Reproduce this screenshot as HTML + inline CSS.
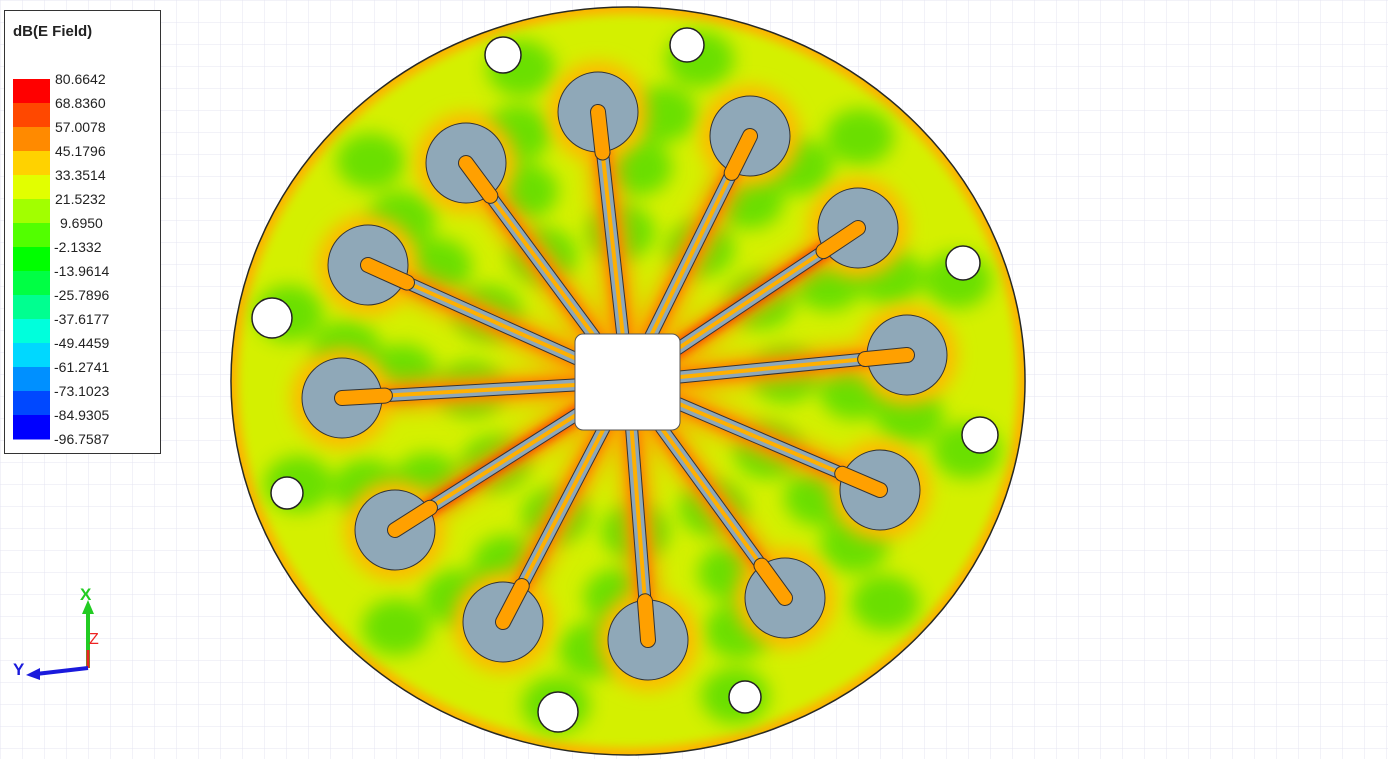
<!DOCTYPE html>
<html><head><meta charset="utf-8"><style>
body{margin:0;width:1388px;height:759px;overflow:hidden;background:#fff;font-family:"Liberation Sans",sans-serif}
svg{position:absolute;left:0;top:0}
</style></head><body>
<svg id="s" width="1388" height="759" xmlns="http://www.w3.org/2000/svg">
<defs>
<pattern id="grid" width="22" height="22" patternUnits="userSpaceOnUse"><path d="M22 0H0V22" fill="none" stroke="#e4e4f2" stroke-width="1"/></pattern>
<filter id="blur"><feGaussianBlur stdDeviation="9"/></filter>
<filter id="blur2"><feGaussianBlur stdDeviation="5"/></filter>
<clipPath id="disk"><ellipse cx="628" cy="381" rx="397" ry="374"/></clipPath>
</defs>
<rect width="1388" height="759" fill="url(#grid)"/>
<g id="board"></g>
<g id="legend"></g>
<g id="triad">
<line x1="88" y1="668" x2="88" y2="610" stroke="#22cc22" stroke-width="4"/>
<polygon points="82,614 94,614 88,600" fill="#22cc22"/>
<line x1="88" y1="668" x2="88" y2="650" stroke="#ee2222" stroke-width="3"/>
<line x1="88" y1="668" x2="36" y2="674" stroke="#1a1adc" stroke-width="4"/>
<polygon points="40,668 40,680 26,675" fill="#1a1adc"/>
<text x="80" y="600" font-size="17" fill="#22cc22" font-weight="bold">X</text>
<text x="89" y="644" font-size="16" fill="#ee2222">Z</text>
<text x="13" y="675" font-size="17" fill="#1a1adc" font-weight="bold">Y</text>
</g>
</svg>
<script>
const legendLabels=["80.6642","68.8360","57.0078","45.1796","33.3514","21.5232","9.6950","-2.1332","-13.9614","-25.7896","-37.6177","-49.4459","-61.2741","-73.1023","-84.9305","-96.7587"];
const legendColors=["#ff0000","#ff4800","#ff8a00","#ffd200","#e2ff00","#a2ff00","#52ff00","#00ff00","#00ff44","#00ff90","#00ffdc","#00d8ff","#0090ff","#0048ff","#0000ff"];
const padX=[598,750,858,907,880,785,648,503,395,342,368,466];
const padY=[112,136,228,355,490,598,640,622,530,398,265,163];
const holeX=[503,687,963,272,980,287,745,558];
const holeY=[55,45,263,318,435,493,697,712];
const holeR=[18,17,17,20,18,16,16,20];
const NS="http://www.w3.org/2000/svg";
function mk(t,a,p){const e=document.createElementNS(NS,t);for(const k in a)e.setAttribute(k,a[k]);p.appendChild(e);return e;}
const L=document.getElementById('legend');
const lb=mk('rect',{x:4.5,y:10.5,width:156,height:443,fill:'#fff',stroke:'#333'},L);


const tt=mk('text',{x:13,y:36,'font-size':15,'font-weight':'bold',fill:'#222'},L);tt.textContent='dB(E Field)';


legendColors.forEach((c,i)=>{const r=mk('rect',{x:13,y:79+i*24,width:37,height:24.5,fill:c},L);

});
legendLabels.forEach((t,i)=>{const e=mk('text',{x:t.startsWith('-')?54:(t.length<7?60:55),y:84+i*24,'font-size':14,fill:'#222'},L);e.textContent=t;

});
const B=document.getElementById('board');
const cx=628,cy=382;
mk('ellipse',{cx:628,cy:381,rx:397,ry:374,fill:'#ffb000',stroke:'#222','stroke-width':1.5},B);
const g=mk('g',{'clip-path':'url(#disk)'},B);
mk('ellipse',{cx:628,cy:381,rx:390,ry:367,fill:'#d4f000',filter:'url(#blur2)'},g);
// green patches
const gb=mk('g',{filter:'url(#blur)',opacity:0.9},g);
for(let i=0;i<12;i++){const j=(i+0.5);const a=(j/12)*Math.PI*2;
for(const rr of [150,215,270,330]){mk('ellipse',{cx:cx+Math.cos(a+rr/700)*rr*1.05,cy:cy+Math.sin(a+rr/700)*rr,rx:34,ry:28,fill:'#5ede00'},gb);}}
// orange glow around traces and pads
const og=mk('g',{filter:'url(#blur)'},g);
padX.forEach((x,i)=>{mk('line',{x1:x,y1:padY[i],x2:cx,y2:cy,stroke:'#ffa000','stroke-width':34,opacity:0.75},og);
mk('circle',{cx:x,cy:padY[i],r:50,fill:'#ffb800'},og);});
const rg=mk('g',{filter:'url(#blur2)'},g);
padX.forEach((x,i)=>{mk('line',{x1:x,y1:padY[i],x2:cx,y2:cy,stroke:(i==2||i==8)?'#ff3a00':'#ff7a00','stroke-width':16},rg);});
padX.forEach((x,i)=>{
mk('line',{x1:x,y1:padY[i],x2:cx,y2:cy,stroke:'#333','stroke-width':13},g);
mk('line',{x1:x,y1:padY[i],x2:cx,y2:cy,stroke:'#8fa8b8','stroke-width':11},g);
mk('line',{x1:x,y1:padY[i],x2:cx,y2:cy,stroke:'#ffb000','stroke-width':4},g);
const p=mk('circle',{cx:x,cy:padY[i],r:40,fill:'#8fa8b8',stroke:'#333','stroke-width':1},g);


mk('line',{x1:x,y1:padY[i],x2:x+(cx-x)*0.15,y2:padY[i]+(cy-padY[i])*0.15,stroke:'#333','stroke-width':16,'stroke-linecap':'round'},g);
mk('line',{x1:x,y1:padY[i],x2:x+(cx-x)*0.15,y2:padY[i]+(cy-padY[i])*0.15,stroke:'#ffa000','stroke-width':14,'stroke-linecap':'round'},g);
});
const sq=mk('rect',{x:575,y:334,width:105,height:96,rx:8,fill:'#fff',stroke:'#555'},g);


holeX.forEach((x,i)=>{const h=mk('circle',{cx:x,cy:holeY[i],r:holeR[i],fill:'#fff',stroke:'#222','stroke-width':1.5},B);

});
</script>
</body></html>
